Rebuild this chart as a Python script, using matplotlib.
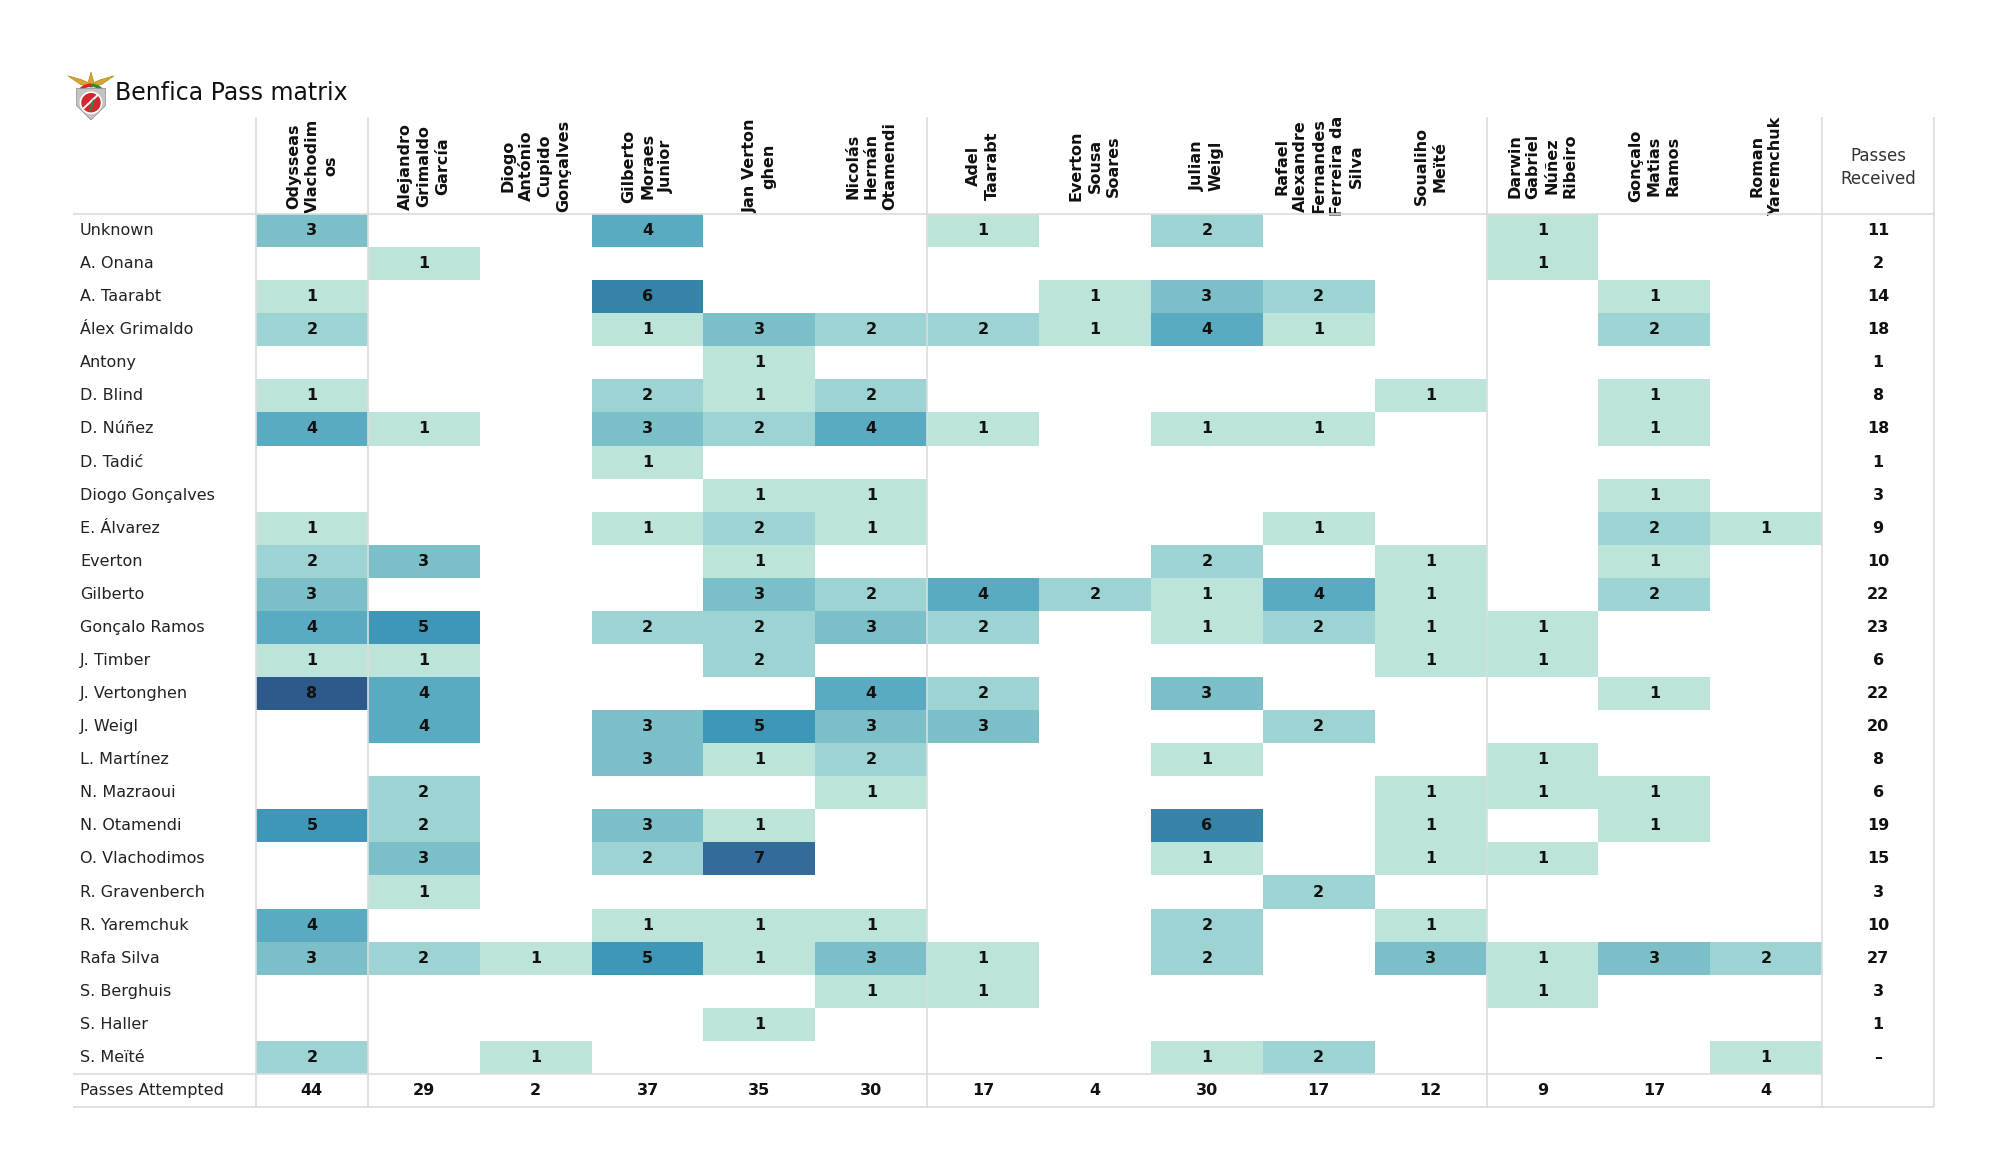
import numpy as np
import matplotlib
matplotlib.use('Agg')
import matplotlib.pyplot as plt
from matplotlib.colors import ListedColormap, BoundaryNorm
from matplotlib.patches import Polygon, Circle, Wedge

# dane - macierz podan (wiersz = odbierajacy, kolumna = podajacy)
podajacy = ['Odysseas\nVlachodim\nos', 'Alejandro\nGrimaldo\nGarcía', 'Diogo\nAntónio\nCupido\nGonçalves',
            'Gilberto\nMoraes\nJunior', 'Jan Verton\nghen', 'Nicolás\nHernán\nOtamendi', 'Adel\nTaarabt',
            'Everton\nSousa\nSoares', 'Julian\nWeigl', 'Rafael\nAlexandre\nFernandes\nFerreira da\nSilva',
            'Soualiho\nMeïté', 'Darwin\nGabriel\nNúñez\nRibeiro', 'Gonçalo\nMatias\nRamos', 'Roman\nYaremchuk']

odbierajacy = ['Unknown', 'A. Onana', 'A. Taarabt', 'Álex Grimaldo', 'Antony', 'D. Blind', 'D. Núñez',
               'D. Tadić', 'Diogo Gonçalves', 'E. Álvarez', 'Everton', 'Gilberto', 'Gonçalo Ramos',
               'J. Timber', 'J. Vertonghen', 'J. Weigl', 'L. Martínez', 'N. Mazraoui', 'N. Otamendi',
               'O. Vlachodimos', 'R. Gravenberch', 'R. Yaremchuk', 'Rafa Silva', 'S. Berghuis',
               'S. Haller', 'S. Meïté']

podania = [
    [3, 0, 0, 4, 0, 0, 1, 0, 2, 0, 0, 1, 0, 0],
    [0, 1, 0, 0, 0, 0, 0, 0, 0, 0, 0, 1, 0, 0],
    [1, 0, 0, 6, 0, 0, 0, 1, 3, 2, 0, 0, 1, 0],
    [2, 0, 0, 1, 3, 2, 2, 1, 4, 1, 0, 0, 2, 0],
    [0, 0, 0, 0, 1, 0, 0, 0, 0, 0, 0, 0, 0, 0],
    [1, 0, 0, 2, 1, 2, 0, 0, 0, 0, 1, 0, 1, 0],
    [4, 1, 0, 3, 2, 4, 1, 0, 1, 1, 0, 0, 1, 0],
    [0, 0, 0, 1, 0, 0, 0, 0, 0, 0, 0, 0, 0, 0],
    [0, 0, 0, 0, 1, 1, 0, 0, 0, 0, 0, 0, 1, 0],
    [1, 0, 0, 1, 2, 1, 0, 0, 0, 1, 0, 0, 2, 1],
    [2, 3, 0, 0, 1, 0, 0, 0, 2, 0, 1, 0, 1, 0],
    [3, 0, 0, 0, 3, 2, 4, 2, 1, 4, 1, 0, 2, 0],
    [4, 5, 0, 2, 2, 3, 2, 0, 1, 2, 1, 1, 0, 0],
    [1, 1, 0, 0, 2, 0, 0, 0, 0, 0, 1, 1, 0, 0],
    [8, 4, 0, 0, 0, 4, 2, 0, 3, 0, 0, 0, 1, 0],
    [0, 4, 0, 3, 5, 3, 3, 0, 0, 2, 0, 0, 0, 0],
    [0, 0, 0, 3, 1, 2, 0, 0, 1, 0, 0, 1, 0, 0],
    [0, 2, 0, 0, 0, 1, 0, 0, 0, 0, 1, 1, 1, 0],
    [5, 2, 0, 3, 1, 0, 0, 0, 6, 0, 1, 0, 1, 0],
    [0, 3, 0, 2, 7, 0, 0, 0, 1, 0, 1, 1, 0, 0],
    [0, 1, 0, 0, 0, 0, 0, 0, 0, 2, 0, 0, 0, 0],
    [4, 0, 0, 1, 1, 1, 0, 0, 2, 0, 1, 0, 0, 0],
    [3, 2, 1, 5, 1, 3, 1, 0, 2, 0, 3, 1, 3, 2],
    [0, 0, 0, 0, 0, 1, 1, 0, 0, 0, 0, 1, 0, 0],
    [0, 0, 0, 0, 1, 0, 0, 0, 0, 0, 0, 0, 0, 0],
    [2, 0, 1, 0, 0, 0, 0, 0, 1, 2, 0, 0, 0, 1],
]

odebrane = ['11', '2', '14', '18', '1', '8', '18', '1', '3', '9', '10', '22', '23', '6', '22', '20',
            '8', '6', '19', '15', '3', '10', '27', '3', '1', '–']
wykonane = [44, 29, 2, 37, 35, 30, 17, 4, 30, 17, 12, 9, 17, 4]

# kolory dla wartosci 1..8
kolory = ['#bde4da', '#9dd3d2', '#7bbfc8', '#5aabc2', '#3f97b7', '#3782a7', '#336c9a', '#2d5a8a']
cmap = ListedColormap(kolory)
norm = BoundaryNorm(np.arange(0.5, 9.5, 1), cmap.N)

W, H = 2000, 1175
fig = plt.figure(figsize=(W / 100, H / 100), dpi=100)
fig.patch.set_facecolor('white')

ax = fig.add_axes([256 / W, 1 - 1107 / H, 1678 / W, 893 / H])
nkol = len(podajacy)
nwier = len(odbierajacy)
ax.set_xlim(0, nkol + 1)
ax.set_ylim(nwier + 1, 0)
ax.axis('off')

macierz = np.ma.masked_equal(np.array(podania), 0)
ax.pcolormesh(np.arange(nkol + 1), np.arange(nwier + 1), macierz, cmap=cmap, norm=norm)

# liczby w komorkach
for i in range(nwier):
    for j in range(nkol):
        if podania[i][j] > 0:
            ax.text(j + 0.5, i + 0.5, str(podania[i][j]), ha='center', va='center',
                    fontsize=11.5, fontweight='bold', color='#111111')

# etykiety wierszy
x_lab = -1.573
for i, nazwa in enumerate(odbierajacy):
    ax.text(x_lab, i + 0.5, nazwa, ha='left', va='center', fontsize=11.5, color='#222222', clip_on=False)
ax.text(x_lab, nwier + 0.5, 'Passes Attempted', ha='left', va='center', fontsize=11.5,
        color='#222222', clip_on=False)

# naglowki kolumn
y_nag = -1.45
for j, nazwa in enumerate(podajacy):
    ax.text(j + 0.5, y_nag, nazwa, rotation=90, ha='center', va='center', multialignment='center',
            fontsize=11.5, fontweight='bold', linespacing=1.3, color='#111111', clip_on=False)
ax.text(nkol + 0.5, y_nag + 0.05, 'Passes\nReceived', ha='center', va='center', multialignment='center',
        fontsize=12, linespacing=1.35, color='#333333', clip_on=False)

# sumy
for i, v in enumerate(odebrane):
    ax.text(nkol + 0.5, i + 0.5, v, ha='center', va='center', fontsize=11.5, fontweight='bold',
            color='#111111')
for j, v in enumerate(wykonane):
    ax.text(j + 0.5, nwier + 0.5, str(v), ha='center', va='center', fontsize=11.5, fontweight='bold',
            color='#111111')

# linie siatki
linia = '#dcdcdc'
ax.vlines([0, 1, 6, 11, nkol, nkol + 1], -2.93, nwier + 1, color=linia, lw=1.2, clip_on=False, zorder=3)
ax.hlines([0, nwier + 1], -1.635, nkol + 1, color=linia, lw=1.2, clip_on=False, zorder=3)
ax.hlines(nwier, -1.635, nkol, color=linia, lw=1.2, clip_on=False, zorder=3)

# tytul
fig.text(115 / W, 1 - 93 / H, 'Benfica Pass matrix', fontsize=17, va='center', color='#111111')

# logo - uproszczony herb
lg = fig.add_axes([67 / W, 1 - 120 / H, 48 / W, 48 / H])
lg.set_xlim(0, 1)
lg.set_ylim(0, 1)
lg.set_aspect('equal')
lg.axis('off')
lg.add_patch(Polygon([(0.02, 0.92), (0.3, 0.84), (0.44, 0.78), (0.5, 1.0), (0.56, 0.78), (0.7, 0.84),
                      (0.98, 0.92), (0.72, 0.74), (0.5, 0.68), (0.28, 0.74)], closed=True,
                     facecolor='#d4a630', edgecolor='#b58a1e', lw=0.5))
lg.add_patch(Wedge((0.5, 0.42), 0.34, 25, 90, width=0.07, facecolor='#2e8b3a'))
lg.add_patch(Wedge((0.5, 0.42), 0.34, 90, 155, width=0.07, facecolor='#d22630'))
lg.add_patch(Polygon([(0.2, 0.66), (0.8, 0.66), (0.8, 0.3), (0.5, 0.0), (0.2, 0.3)], closed=True,
                     facecolor='#c4c4c4', edgecolor='#8a8a8a', lw=0.5))
lg.add_patch(Circle((0.5, 0.36), 0.22, facecolor='#d22630', edgecolor='white', lw=1.2))
lg.add_patch(Polygon([(0.35, 0.22), (0.65, 0.5), (0.62, 0.53), (0.32, 0.25)], closed=True,
                     facecolor='white'))
lg.add_patch(Polygon([(0.5, 0.18), (0.58, 0.42), (0.54, 0.43), (0.46, 0.2)], closed=True,
                     facecolor='#2e8b3a'))

fig.savefig('out.png', dpi=100, facecolor='white')
